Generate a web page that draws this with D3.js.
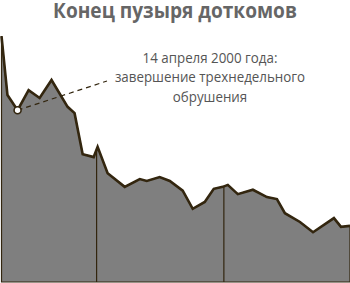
<!DOCTYPE html>
<html lang="ru">
<head>
  <meta charset="UTF-8">
  <script src="https://d3js.org/d3.v7.min.js"></script>
  <style>
    body { margin: 0; background: #fff; }
    text { font-family: "Open Sans", sans-serif; }
  </style>
</head>
<body>
  <svg id="chart" width="350" height="283"></svg>
  <script>
    // months since March 2000
    var months = [0, 0.53, 1.43, 2.41, 3.39, 4.45, 5.88, 6.5, 7.22, 8.2, 8.55, 9.44,
      10.96, 12.3, 12.92, 14.07, 14.97, 16.12, 17.01, 18.08, 18.88, 19.68, 20.13,
      21.02, 22.36, 23.61, 24.5, 25.21, 26.55, 27.71, 29.57, 30.2, 31];
    var index = [5040, 3830, 3520, 3930, 3770, 4140, 3590, 3460, 2620, 2560, 2770, 2230,
      1950, 2110, 2070, 2150, 2070, 1870, 1500, 1640, 1910, 1950, 1990,
      1800, 1890, 1740, 1700, 1410, 1230, 1020, 1310, 1130, 1150];
    var markers = [8.46, 19.78];
    var noteAt = 2;
    var title = 'Конец пузыря доткомов';
    var noteLines = ['14 апреля 2000 года:', 'завершение трехнедельного', 'обрушения'];

    var data = months.map((m, i) => ({ m: m, v: index[i] }));
    var svg = d3.select('#chart');
    var x = d3.scaleLinear().domain([0, 31]).range([1.5, 350]),
      y = d3.scaleLinear().domain([0, 5000]).range([282, 38]);

    var area = d3.area().x(d => x(d.m)).y0(y(0)).y1(d => y(d.v));
    var line = d3.line().x(d => x(d.m)).y(d => y(d.v));

    svg.append('path').datum(data).attr('d', area)
      .attr('fill', '#7f7f7f').attr('stroke', '#33260f').attr('stroke-width', 1.2);

    // vertical markers up to the line
    var valAt = m => {
      var i = d3.bisector(d => d.m).right(data, m);
      var a = data[i - 1], b = data[i];
      return d3.interpolateNumber(a.v, b.v)((m - a.m) / (b.m - a.m));
    };
    svg.selectAll('line.mark').data(markers).enter().append('line')
      .attr('x1', d => x(d)).attr('x2', d => x(d))
      .attr('y1', y(0)).attr('y2', d => y(valAt(d)))
      .attr('stroke', '#33260f').attr('stroke-width', 1.2);

    svg.append('path').datum(data).attr('d', line)
      .attr('fill', 'none').attr('stroke', '#33260f').attr('stroke-width', 2.6)
      .attr('stroke-linejoin', 'miter');

    // annotation
    var p = data[noteAt];
    svg.append('line')
      .attr('x1', x(p.m)).attr('y1', y(p.v))
      .attr('x2', 107).attr('y2', 81)
      .attr('stroke', '#33260f').attr('stroke-width', 1.2)
      .attr('stroke-dasharray', '5,4');
    svg.append('circle').attr('cx', x(p.m)).attr('cy', y(p.v)).attr('r', 3.5)
      .attr('fill', '#fff').attr('stroke', '#33260f').attr('stroke-width', 1.6);

    svg.append('g').attr('transform', 'translate(175,18) scale(0.91,1)')
      .append('text').attr('text-anchor', 'middle')
      .attr('font-size', 21).attr('font-weight', 'bold').attr('fill', '#666')
      .text(title);

    svg.append('g').attr('transform', 'translate(210,0) scale(0.89,1)')
      .selectAll('text').data(noteLines).enter().append('text')
      .attr('x', 0).attr('y', (d, i) => 63 + i * 19.5)
      .attr('text-anchor', 'middle').attr('font-size', 15).attr('fill', '#555')
      .text(d => d);
  </script>
</body>
</html>
